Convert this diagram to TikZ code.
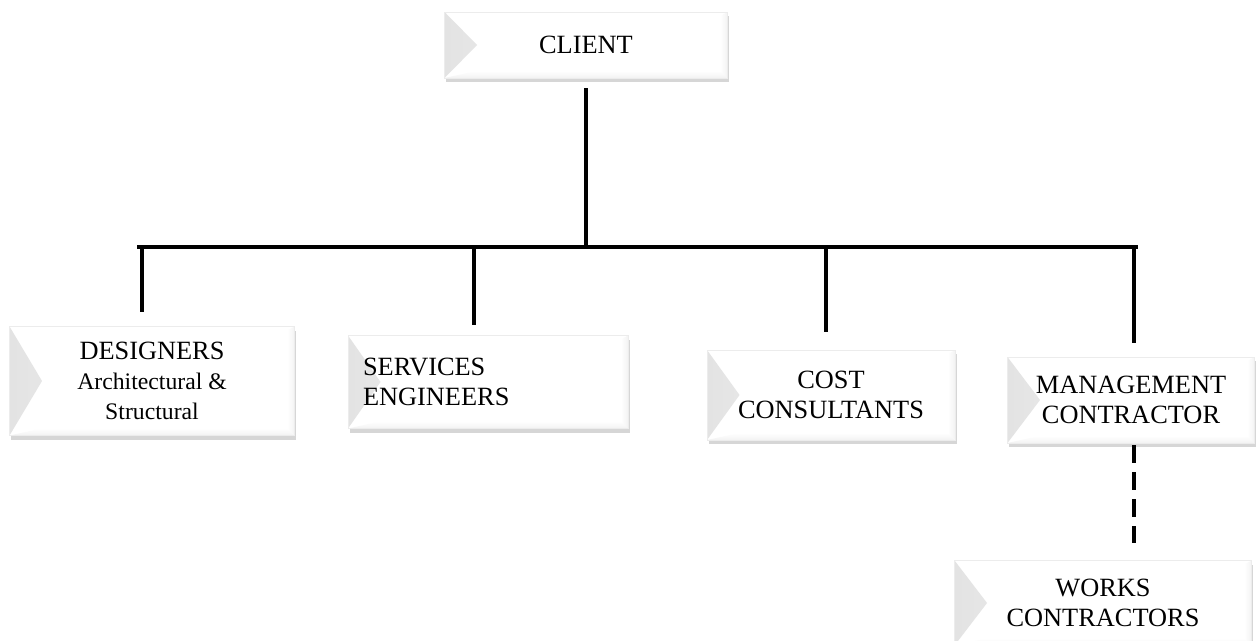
\documentclass[tikz,border=0pt]{standalone}
\usepackage{fontspec}
\setmainfont{Liberation Serif}
\usetikzlibrary{shadows}
\tikzset{
  orgbox/.style={draw=gray!15, fill=white, align=center, inner sep=2pt,
    font=\fontsize{15}{17}\selectfont,
    drop shadow={shadow xshift=1pt, shadow yshift=-2.5pt, opacity=.4, fill=gray!80},
    path picture={
      \shade[left color=gray!22, right color=gray!3] (path picture bounding box.north west)
        -- ([xshift=.65cm]path picture bounding box.west)
        -- (path picture bounding box.south west) -- cycle;
      \shade[top color=white, bottom color=gray!10] (path picture bounding box.south west)
        -- ([xshift=.65cm,yshift=.14cm]path picture bounding box.south west)
        -- ([xshift=-.14cm,yshift=.14cm]path picture bounding box.south east)
        -- (path picture bounding box.south east) -- cycle;
      \shade[left color=white, right color=gray!10] (path picture bounding box.north east)
        -- ([xshift=-.14cm,yshift=-.08cm]path picture bounding box.north east)
        -- ([xshift=-.14cm,yshift=.14cm]path picture bounding box.south east)
        -- (path picture bounding box.south east) -- cycle;
    }},
  link/.style={line width=2.8pt}
}
\newcommand{\subtxt}[1]{{\fontsize{13.5}{16}\selectfont #1}}
\begin{document}
\begin{tikzpicture}[x=0.02cm, y=-0.02cm]
 \useasboundingbox (0,0) rectangle (1259,641);
 % boxes
 \node[orgbox, minimum width=5.66cm, minimum height=1.32cm] (client) at (586,45) {CLIENT};
 \node[orgbox, minimum width=5.7cm, minimum height=2.18cm] (des) at (152,381)
   {DESIGNERS\\\subtxt{Architectural \&}\\\subtxt{Structural}};
 \node[orgbox, minimum width=5.6cm, minimum height=1.86cm, text width=5.0cm, align=left] (serv) at (488,382)
   {SERVICES\\ENGINEERS};
 \node[orgbox, minimum width=4.96cm, minimum height=1.8cm] (cost) at (831,395) {COST\\CONSULTANTS};
 \node[orgbox, minimum width=4.94cm, minimum height=1.72cm] (mgmt) at (1131,400) {MANAGEMENT\\CONTRACTOR};
 \node[orgbox, minimum width=5.94cm, minimum height=1.7cm] (works) at (1103,603) {WORKS\\CONTRACTORS};
 % connectors
 \coordinate (bus) at (586,247);
 \coordinate (busL) at (137,247);
 \coordinate (busR) at (1138,247);
 \draw[link, shorten <=.2cm] (client.south) -- (bus);
 \draw[link] (busL) -- (busR);
 \foreach \n/\x/\g in {des/142/.28, serv/474/.2, cost/826/.36, mgmt/1134/.28}
 {
     \coordinate (d\n) at (\x,247);
     \draw[link, shorten >=\g cm] (d\n) -- (d\n |- \n.north);
 }
 \draw[link, dash pattern=on .36cm off .18cm, shorten <=.04cm, shorten >=.34cm]
   (dmgmt |- mgmt.south) -- (dmgmt |- works.north);
\end{tikzpicture}
\end{document}
